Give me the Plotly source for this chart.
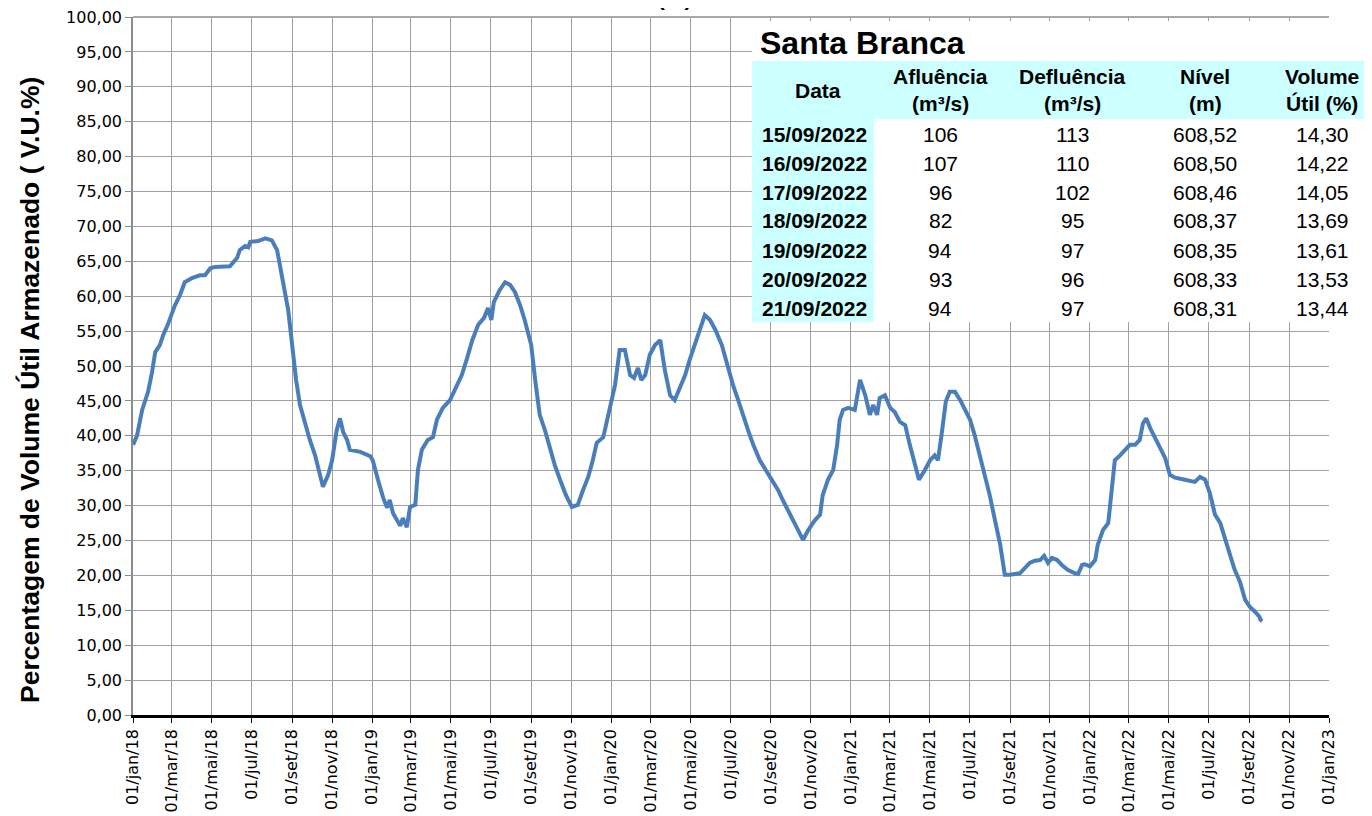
import plotly.graph_objects as go

# ---- series: Volume Útil (%) ----
dates = [
    "2018-01-01","2018-01-07","2018-01-15","2018-01-24","2018-01-30","2018-02-04","2018-02-11","2018-02-16",
    "2018-02-23","2018-03-06","2018-03-14","2018-03-21","2018-04-01","2018-04-13","2018-04-21","2018-04-29",
    "2018-05-06","2018-05-29","2018-06-09","2018-06-13","2018-06-21","2018-06-26","2018-06-29","2018-07-11",
    "2018-07-22","2018-08-01","2018-08-09","2018-08-18","2018-08-26","2018-09-01","2018-09-07","2018-09-13",
    "2018-09-21","2018-09-28","2018-10-06","2018-10-13","2018-10-18","2018-10-26","2018-11-01","2018-11-08",
    "2018-11-13","2018-11-18","2018-11-24","2018-11-28","2018-12-14","2018-12-29","2019-01-02","2019-01-10",
    "2019-01-18","2019-01-24","2019-01-28","2019-02-02","2019-02-08","2019-02-13","2019-02-17","2019-02-23",
    "2019-02-28","2019-03-08","2019-03-12","2019-03-18","2019-03-27","2019-04-04","2019-04-10","2019-04-19",
    "2019-04-30","2019-05-08","2019-05-18","2019-05-26","2019-06-03","2019-06-12","2019-06-21","2019-06-27",
    "2019-07-02","2019-07-06","2019-07-15","2019-07-23","2019-07-31","2019-08-07","2019-08-15","2019-08-22",
    "2019-09-01","2019-09-07","2019-09-14","2019-09-22","2019-09-30","2019-10-07","2019-10-15","2019-10-24",
    "2019-11-02","2019-11-11","2019-11-19","2019-11-27","2019-12-04","2019-12-10","2019-12-20","2019-12-30",
    "2020-01-07","2020-01-14","2020-01-22","2020-01-30","2020-02-05","2020-02-11","2020-02-16","2020-02-22",
    "2020-02-29","2020-03-08","2020-03-16","2020-03-23","2020-03-31","2020-04-07","2020-04-15","2020-04-23",
    "2020-04-30","2020-05-08","2020-05-16","2020-05-23","2020-05-31","2020-06-08","2020-06-18","2020-06-26",
    "2020-07-05","2020-07-13","2020-07-20","2020-07-28","2020-08-05","2020-08-15","2020-08-24","2020-09-03",
    "2020-09-12","2020-09-19","2020-09-30","2020-10-08","2020-10-15","2020-10-20","2020-10-28","2020-11-07",
    "2020-11-15","2020-11-19","2020-11-27","2020-12-05","2020-12-11","2020-12-15","2020-12-20","2020-12-28",
    "2021-01-07","2021-01-15","2021-01-23","2021-01-30","2021-02-04","2021-02-10","2021-02-14","2021-02-22",
    "2021-03-02","2021-03-09","2021-03-17","2021-03-25","2021-04-01","2021-04-09","2021-04-15","2021-04-24",
    "2021-05-02","2021-05-09","2021-05-14","2021-05-20","2021-05-26","2021-06-01","2021-06-09","2021-06-17",
    "2021-06-24","2021-07-02","2021-07-09","2021-07-17","2021-07-25","2021-08-01","2021-08-09","2021-08-17",
    "2021-08-24","2021-09-01","2021-09-16","2021-09-24","2021-10-01","2021-10-09","2021-10-17","2021-10-23",
    "2021-10-29","2021-11-04","2021-11-12","2021-11-19","2021-11-28","2021-12-09","2021-12-14","2021-12-20",
    "2021-12-24","2022-01-01","2022-01-09","2022-01-13","2022-01-21","2022-01-29","2022-02-04","2022-02-08",
    "2022-02-16","2022-02-23","2022-03-03","2022-03-11","2022-03-18","2022-03-23","2022-03-28","2022-04-03",
    "2022-04-10","2022-04-18","2022-04-26","2022-05-03","2022-05-11","2022-05-26","2022-06-10","2022-06-18",
    "2022-06-26","2022-07-03","2022-07-11","2022-07-19","2022-07-26","2022-08-03","2022-08-10","2022-08-18",
    "2022-08-26","2022-09-02","2022-09-10","2022-09-15","2022-09-16","2022-09-17","2022-09-18","2022-09-19",
    "2022-09-20","2022-09-21",
]
volume = [
    38.7, 40.0, 43.7, 46.3, 49.1, 52.0, 53.0, 54.4,
    55.9, 58.7, 60.2, 62.0, 62.6, 63.0, 63.0, 64.0,
    64.2, 64.3, 65.5, 66.6, 67.2, 67.0, 67.8, 67.9,
    68.3, 68.0, 66.6, 61.6, 58.0, 53.0, 48.0, 44.4,
    41.5, 39.4, 37.2, 34.4, 32.7, 34.4, 36.5, 40.8,
    42.5, 40.5, 39.4, 38.0, 37.7, 37.1, 36.5, 33.7,
    31.1, 29.7, 30.8, 28.9, 27.9, 27.1, 28.2, 26.9,
    29.8, 30.1, 35.1, 38.0, 39.4, 39.8, 42.3, 44.0,
    45.1, 46.6, 48.7, 51.1, 53.7, 55.9, 56.9, 58.3,
    56.6, 59.2, 60.9, 62.0, 61.6, 60.6, 58.7, 56.6,
    53.0, 48.0, 43.0, 40.8, 38.0, 35.8, 33.7, 31.5,
    29.8, 30.1, 32.2, 34.1, 36.5, 39.0, 39.8, 43.7,
    47.3, 52.3, 52.3, 48.7, 48.3, 49.7, 48.0, 48.7,
    51.6, 53.0, 53.7, 49.4, 45.8, 45.1, 46.8, 48.7,
    50.9, 53.0, 55.2, 57.3, 56.6, 55.2, 53.0, 50.1,
    47.3, 45.1, 43.0, 40.8, 38.7, 36.5, 35.1, 33.7,
    32.2, 30.8, 28.7, 27.2, 25.8, 25.1, 26.5, 27.9,
    28.7, 31.5, 33.7, 35.1, 38.7, 42.3, 43.7, 44.0,
    43.7, 48.0, 45.8, 43.0, 44.4, 43.0, 45.4, 45.8,
    44.0, 43.4, 42.0, 41.5, 38.7, 35.8, 33.7, 35.1,
    36.5, 37.2, 36.5, 40.5, 44.9, 46.3, 46.3, 45.1,
    43.7, 42.3, 40.1, 37.2, 34.4, 31.5, 27.9, 24.4,
    20.1, 20.1, 20.3, 21.0, 21.8, 22.1, 22.2, 22.8,
    21.8, 22.5, 22.2, 21.5, 20.8, 20.3, 20.2, 21.5,
    21.6, 21.3, 22.2, 24.4, 26.5, 27.5, 32.2, 36.5,
    37.2, 38.0, 38.7, 38.7, 39.4, 41.8, 42.5, 41.1,
    39.8, 38.3, 36.8, 34.4, 34.0, 33.7, 33.4, 34.1,
    33.7, 31.8, 28.7, 27.5, 25.1, 22.9, 20.8, 19.1,
    16.5, 15.5, 14.8, 14.30, 14.22, 14.05, 13.69, 13.61,
    13.53, 13.44,
]

# ---- table ----
table_title = "Santa Branca"
tab_dates = ["15/09/2022","16/09/2022","17/09/2022","18/09/2022","19/09/2022","20/09/2022","21/09/2022"]
tab_aflu = ["106","107","96","82","94","93","94"]
tab_deflu = ["113","110","102","95","97","96","97"]
tab_nivel = ["608,52","608,50","608,46","608,37","608,35","608,33","608,31"]
tab_vol = ["14,30","14,22","14,05","13,69","13,61","13,53","13,44"]
tab_headers = [("Afluência", "(m³/s)"), ("Defluência", "(m³/s)"), ("Nível", "(m)"), ("Volume", "Útil (%)")]

# ---- axis ticks ----
years = [2018, 2019, 2020, 2021, 2022]
month_nums = [1, 3, 5, 7, 9, 11]
month_names = ["jan", "mar", "mai", "jul", "set", "nov"]
x_tickvals, x_ticktext = [], []
for y in years:
    for m, nm in zip(month_nums, month_names):
        x_tickvals.append(f"{y}-{m:02d}-01")
        x_ticktext.append(f"01/{nm}/{str(y)[2:]}")
x_tickvals.append("2023-01-01")
x_ticktext.append("01/jan/23")

# page body has an 8px margin: figure drawn at (8, 8) in the window
OFF = 8
W, H = 1372 - OFF, 816 - OFF
L, R, T, B = 133, 1329, 17, 715          # plot area in window pixels
def px(x):
    return (x - L) / (R - L)
def py(y):
    return (B - y) / (B - T)

fig = go.Figure()
fig.add_trace(go.Scatter(x=dates, y=volume, mode="lines",
                         line=dict(color="#4A7EBB", width=4), hoverinfo="x+y"))

shapes = []
annotations = []
CYAN = "#CCFFFF"
# table backgrounds
shapes.append(dict(type="rect", xref="paper", yref="paper", x0=px(752), x1=px(1372), y0=py(322), y1=py(21),
                   fillcolor="white", line=dict(width=0), layer="above"))
shapes.append(dict(type="rect", xref="paper", yref="paper", x0=px(752), x1=px(1372), y0=py(119), y1=py(61),
                   fillcolor=CYAN, line=dict(width=0), layer="above"))
shapes.append(dict(type="rect", xref="paper", yref="paper", x0=px(752), x1=px(874), y0=py(322), y1=py(119),
                   fillcolor=CYAN, line=dict(width=0), layer="above"))
# top border
shapes.append(dict(type="line", xref="paper", yref="paper", x0=0, x1=1, y0=1, y1=1,
                   line=dict(color="#8C8C8C", width=1.5), layer="below"))

FONT = "Liberation Sans, Arial, sans-serif"
def ann(text, x, y, size=21, bold=False, xanchor="center"):
    t = f"<b>{text}</b>" if bold else text
    annotations.append(dict(text=t, x=px(x), y=py(y), xref="paper", yref="paper", showarrow=False,
                            xanchor=xanchor, yanchor="middle", font=dict(family=FONT, size=size, color="black")))

ann(table_title, 758, 43, size=32, bold=True, xanchor="left")
ann("Data", 818, 90, bold=True)
col_x = [940, 1072, 1205, 1322]
for cx, (h1, h2) in zip(col_x, tab_headers):
    ann(h1, cx, 76, bold=True)
    ann(h2, cx, 104, bold=True)
row_y = [134, 163, 192, 221, 250, 279, 308]
for i, ry in enumerate(row_y):
    ann(tab_dates[i], 814, ry, bold=True)
    ann(tab_aflu[i], col_x[0], ry)
    ann(tab_deflu[i], col_x[1], ry)
    ann(tab_nivel[i], col_x[2], ry)
    ann(tab_vol[i], col_x[3], ry)

# y axis title
annotations.append(dict(text="<b>Percentagem de Volume Útil Armazenado ( V.U.%)</b>", x=px(30), y=py(390),
                        xref="paper", yref="paper", showarrow=False, textangle=-90,
                        xanchor="center", yanchor="middle",
                        font=dict(family=FONT, size=26.5, color="black")))
# clipped chart title at top
annotations.append(dict(text="<b>Volume Útil (%)</b>", x=px(694), y=py(12), xref="paper", yref="paper",
                        showarrow=False, xanchor="right", yanchor="bottom",
                        font=dict(family=FONT, size=22, color="black")))

fig.update_layout(
    width=W, height=H,
    margin=dict(l=L - OFF, r=W - (R - OFF), t=T - OFF, b=H - (B - OFF), autoexpand=False),
    paper_bgcolor="white", plot_bgcolor="white",
    showlegend=False,
    separators=",.",
    shapes=shapes, annotations=annotations,
    xaxis=dict(type="date", range=["2018-01-01", "2023-01-01"], tickvals=x_tickvals, ticktext=x_ticktext,
               tickangle=-90, showgrid=True, gridcolor="#A0A0A0", gridwidth=1,
               showline=True, linecolor="black", linewidth=2.5, automargin=False,
               ticks="outside", ticklen=5, tickcolor="black", zeroline=False,
               ticklabeloverflow="allow",
               tickfont=dict(family="DejaVu Sans", size=16, color="black")),
    yaxis=dict(range=[0, 100], tickmode="linear", tick0=0, dtick=5, tickformat=".2f",
               showgrid=True, gridcolor="#A0A0A0", gridwidth=1, automargin=False,
               showline=True, linecolor="#8C8C8C", linewidth=1.5,
               ticks="outside", ticklen=6, tickcolor="#8C8C8C", zeroline=False,
               ticklabeloverflow="allow",
               tickfont=dict(family="DejaVu Sans", size=16, color="black")),
)

fig.write_html("out.html")
